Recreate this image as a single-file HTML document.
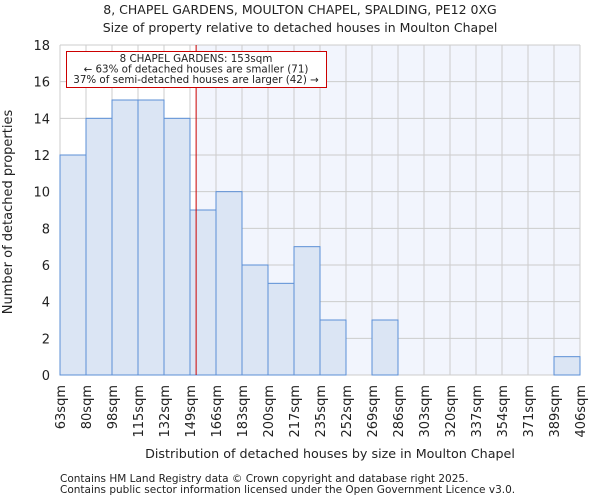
<!DOCTYPE html>
<html><head><meta charset="utf-8"><style>
body{margin:0;background:#fff;font-family:"DejaVu Sans","Liberation Sans",sans-serif;}
svg text{font-family:"DejaVu Sans","Liberation Sans",sans-serif;fill:#222;}
</style></head><body>
<svg id="chart" width="600" height="500" viewBox="0 0 600 500">
<text x="300" y="14" text-anchor="middle" font-size="12.5">8, CHAPEL GARDENS, MOULTON CHAPEL, SPALDING, PE12 0XG</text>
<text x="300" y="32" text-anchor="middle" font-size="12.5">Size of property relative to detached houses in Moulton Chapel</text>
<g id="plot"></g>
<text x="330" y="458" text-anchor="middle" font-size="12.7">Distribution of detached houses by size in Moulton Chapel</text>
<text transform="translate(12,212) rotate(-90)" text-anchor="middle" font-size="13">Number of detached properties</text>
<text x="60" y="482" font-size="10.5">Contains HM Land Registry data © Crown copyright and database right 2025.</text>
<text x="60" y="493" font-size="10.5">Contains public sector information licensed under the Open Government Licence v3.0.</text>
</svg>
<script>
const binLabels=["63sqm","80sqm","98sqm","115sqm","132sqm","149sqm","166sqm","183sqm","200sqm","217sqm","235sqm","252sqm","269sqm","286sqm","303sqm","320sqm","337sqm","354sqm","371sqm","389sqm","406sqm"];
const binEdges=[63,80,98,115,132,149,166,183,200,217,235,252,269,286,303,320,337,354,371,389,406];
const counts=[12,14,15,15,14,9,10,6,5,7,3,0,3,0,0,0,0,0,0,1];
const yTicks=[0,2,4,6,8,10,12,14,16,18];
const markerValue=153;
const NS="http://www.w3.org/2000/svg";
const g=document.getElementById('plot');
const X0=60,X1=580,Y0=375,Y1=45,YMAX=18;
const n=counts.length;
const xi=i=>X0+(X1-X0)*i/n;
const xv=v=>{let i=0;while(i<n-1&&v>binEdges[i+1])i++;return xi(i)+(v-binEdges[i])/(binEdges[i+1]-binEdges[i])*(X1-X0)/n;};
const y=v=>Y0-(Y0-Y1)*v/YMAX;
function mk(t,a){const e=document.createElementNS(NS,t);for(const k in a)e.setAttribute(k,a[k]);g.appendChild(e);return e;}
const mx=xv(markerValue);
let e=mk('rect',{x:mx,y:Y1,width:X1-mx,height:Y0-Y1,fill:'#f2f5fd'});


for(let i=0;i<=n;i++){e=mk('line',{x1:xi(i),x2:xi(i),y1:Y1,y2:Y0,stroke:'#cccccc','stroke-width':1});

}
yTicks.forEach(t=>{e=mk('line',{x1:X0,x2:X1,y1:y(t),y2:y(t),stroke:'#cccccc','stroke-width':1});


const tx=mk('text',{x:X0-10,y:y(t)+5,'text-anchor':'end','font-size':13});tx.textContent=t;

});
counts.forEach((c,i)=>{if(c<=0)return;e=mk('rect',{x:xi(i),y:y(c),width:xi(i+1)-xi(i),height:Y0-y(c),fill:'#dbe5f4',stroke:'#5b8fd6','stroke-width':1});

});
binLabels.forEach((l,i)=>{const tx=mk('text',{transform:`translate(${xi(i)+5},${Y0+10}) rotate(-90)`,'text-anchor':'end','font-size':13});tx.textContent=l;

});
e=mk('line',{x1:mx,x2:mx,y1:Y1,y2:Y0,stroke:'#cc0000','stroke-width':1});


e=mk('rect',{x:66.5,y:51.5,width:260,height:36,fill:'#fff',stroke:'#cc0000','stroke-width':1});


["8 CHAPEL GARDENS: 153sqm","← 63% of detached houses are smaller (71)","37% of semi-detached houses are larger (42) →"].forEach((s,k)=>{const tx=mk('text',{x:196,y:62+k*10.5,'text-anchor':'middle','font-size':10.3});tx.textContent=s;

});
</script>
</body></html>
